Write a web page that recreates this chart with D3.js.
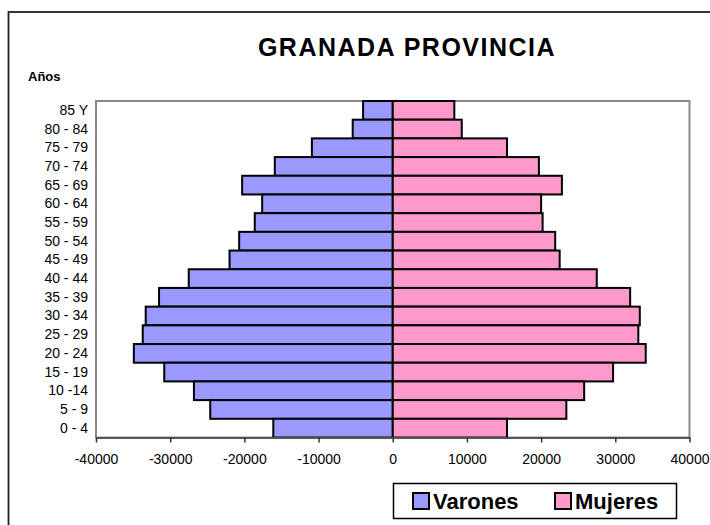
<!DOCTYPE html>
<html>
<head>
<meta charset="utf-8">
<title>Granada provincia</title>
<script src="https://cdn.jsdelivr.net/npm/d3@7"></script>
<style>
    body { margin: 0; background: #fff; }
    text { font-family: "Liberation Sans", Arial, sans-serif; }
</style>
</head>
<body>
<script>
    // age groups, top to bottom
    let ages = ["85 Y", "80 - 84", "75 - 79", "70 - 74", "65 - 69", "60 - 64", "55 - 59",
                "50 - 54", "45 - 49", "40 - 44", "35 - 39", "30 - 34", "25 - 29",
                "20 - 24", "15 - 19", "10 -14", "5 - 9", "0 - 4"]
    let varones = [4000, 5400, 10900, 15900, 20300, 17600, 18600, 20700, 22000,
                   27500, 31500, 33300, 33700, 34900, 30800, 26800, 24600, 16100]
    let mujeres = [8300, 9300, 15400, 19700, 22800, 20000, 20200, 21900, 22500,
                   27500, 32000, 33300, 33100, 34100, 29700, 25800, 23400, 15400]
    let xTicks = [-40000, -30000, -20000, -10000, 0, 10000, 20000, 30000, 40000]
    let seriesNames = ["Varones", "Mujeres"]
    let colors = ["#9999ff", "#ff99cc"]

    let w = 710
    let h = 525
    let plotLeft = 96, plotRight = 689.5, plotTop = 101, plotBottom = 437.5

    let svg = d3.select("body")
                .append("svg")
                .attr("width", w)
                .attr("height", h)

    // outer chart frame (runs off the page on the right and bottom)
    svg.append("rect")
       .attr("x", 8.5).attr("y", 12)
       .attr("width", w + 20).attr("height", h + 20)
       .attr("fill", "none")
       .attr("stroke", "#222")
       .attr("stroke-width", 1.8)

    let x_scale = d3.scaleLinear()
                    .domain([-40000, 40000])
                    .range([plotLeft, plotRight])
    let y_scale = d3.scaleBand()
                    .domain(ages)
                    .range([plotTop, plotBottom])
                    .padding(0)

    // plot area border
    svg.append("rect")
       .attr("x", plotLeft).attr("y", plotTop)
       .attr("width", plotRight - plotLeft).attr("height", plotBottom - plotTop)
       .attr("fill", "none")
       .attr("stroke", "#888")
       .attr("stroke-width", 2)

    let rows = ages.map((a, i) => ({age: a, v: varones[i], m: mujeres[i]}))

    svg.selectAll("rect.varones")
       .data(rows)
       .enter()
       .append("rect")
       .attr("class", "varones")
       .attr("x", (d) => x_scale(-d.v))
       .attr("y", (d) => y_scale(d.age))
       .attr("width", (d) => x_scale(0) - x_scale(-d.v))
       .attr("height", y_scale.bandwidth())
       .attr("fill", colors[0])
       .attr("stroke", "#000")
       .attr("stroke-width", 2)

    svg.selectAll("rect.mujeres")
       .data(rows)
       .enter()
       .append("rect")
       .attr("class", "mujeres")
       .attr("x", x_scale(0))
       .attr("y", (d) => y_scale(d.age))
       .attr("width", (d) => x_scale(d.m) - x_scale(0))
       .attr("height", y_scale.bandwidth())
       .attr("fill", colors[1])
       .attr("stroke", "#000")
       .attr("stroke-width", 2)

    // x axis, plain hyphen for negatives like the original
    let x_axis = d3.axisBottom(x_scale)
                   .tickValues(xTicks)
                   .tickFormat((d) => String(d))
                   .tickSize(5)
                   .tickSizeOuter(0)
                   .tickPadding(12)
    let gx = svg.append("g")
                .attr("transform", "translate(0," + plotBottom + ")")
                .call(x_axis)
    gx.select(".domain").attr("stroke", "#555").attr("stroke-width", 2)
    gx.selectAll(".tick line").attr("stroke", "#333").attr("stroke-width", 1.5)
    gx.selectAll("text")
      .attr("fill", "#000")
      .style("font-size", "14px")
      .style("font-family", "'Liberation Sans', Arial, sans-serif")

    // y axis (labels only)
    let y_axis = d3.axisLeft(y_scale).tickSize(0).tickPadding(8)
    let gy = svg.append("g")
                .attr("transform", "translate(" + plotLeft + ",0)")
                .call(y_axis)
    gy.select(".domain").remove()
    gy.selectAll("text")
      .attr("fill", "#000")
      .style("font-size", "14px")
      .style("font-family", "'Liberation Sans', Arial, sans-serif")

    // titles
    svg.append("text")
       .attr("x", 407).attr("y", 56)
       .attr("text-anchor", "middle")
       .style("font-size", "25px")
       .style("font-weight", "bold")
       .style("letter-spacing", "1.5px")
       .text("GRANADA PROVINCIA")
    svg.append("text")
       .attr("x", 28).attr("y", 81)
       .style("font-size", "13px")
       .style("font-weight", "bold")
       .text("Años")

    // legend
    let legend = svg.append("g")
    legend.append("rect")
          .attr("x", 393.5).attr("y", 483.5)
          .attr("width", 283).attr("height", 35)
          .attr("fill", "#fff")
          .attr("stroke", "#000")
          .attr("stroke-width", 1.5)
    let legX = [413, 555]
    seriesNames.forEach((name, i) => {
        legend.append("rect")
              .attr("x", legX[i]).attr("y", 493)
              .attr("width", 16).attr("height", 16)
              .attr("fill", colors[i])
              .attr("stroke", "#000")
              .attr("stroke-width", 2)
        legend.append("text")
              .attr("x", legX[i] + 20).attr("y", 509)
              .style("font-size", "22px")
              .style("font-weight", "bold")
              .text(name)
    })
</script>
</body>
</html>
